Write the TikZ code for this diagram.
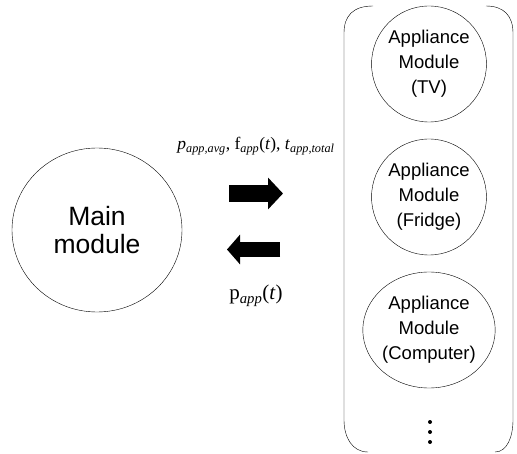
\documentclass[tikz,border=0pt]{standalone}
\usepackage{fontspec}
\setmainfont{Liberation Serif}
\newfontfamily\arialfont{Liberation Sans}
\usetikzlibrary{shapes.geometric, arrows.meta}
\tikzstyle{mainellipse} = [ellipse, draw=black, thin,
minimum width=170pt,
minimum height=164pt,
align=center,
font=\arialfont\fontsize{26.5}{28}\selectfont]
\tikzstyle{appcircle} = [ellipse, draw=black, thin,
minimum width=112pt,
minimum height=116pt,
inner sep=0pt,
align=center,
font=\arialfont\fontsize{18.5}{25}\selectfont]
\tikzstyle{flowarrow} = [black, line width=17pt, -{Triangle[length=15pt,width=31pt]}]

\begin{document}
\begin{tikzpicture}[x=1pt, y=1pt, node distance=133pt]
		\useasboundingbox (0,0) rectangle (517,453);
		\node (main) [mainellipse] at (97,223) {Main\\module};
		\node (tv) [appcircle] at (429,389) {Appliance\\Module\\(TV)};
		\node (fridge) [appcircle, below of=tv] {Appliance\\Module\\(Fridge)};
		\node (computer) [appcircle, below of=fridge] {Appliance\\Module\\(Computer)};
		
		% group of appliance modules
		\draw [thin] (373,447) .. controls (353,447) and (344,437) .. (344,420) -- (344,33) .. controls (344,16) and (352,1) .. (368,1);
		\draw [thin] (486,447) .. controls (504,447) and (513,437) .. (513,420) -- (513,33) .. controls (513,16) and (507,1) .. (495,1);
		\foreach \y in {31,21,11}
			\fill (430,\y) circle (2pt);
		
		\coordinate (upstart) at (229,259.5);
		\coordinate (upend) at (283,259.5);
		\coordinate (downstart) at (280,203.5);
		\coordinate (downend) at (227,203.5);
		\draw [flowarrow] (upstart) -- (upend);
		\draw [flowarrow, line width=15pt, -{Triangle[length=13pt,width=29pt]}] (downstart) -- (downend);
		
		\node (uplabel) [anchor=base, font=\fontsize{17.5}{20}\selectfont] at (256,303) {\textit{p}\textsubscript{\textit{app,avg}}, f\textsubscript{\textit{app}}(\textit{t}), \textit{t}\textsubscript{\textit{app,total}}};
		\node (downlabel) [anchor=base, font=\fontsize{21}{24}\selectfont] at (256,153) {p\textsubscript{\textit{app}}(\textit{t})};
	\end{tikzpicture}
\end{document}
